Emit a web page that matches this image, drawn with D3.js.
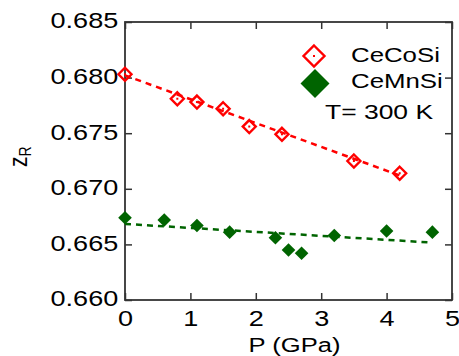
<!DOCTYPE html>
<html>
<head>
<meta charset="utf-8">
<script src="https://cdn.jsdelivr.net/npm/d3@7"></script>
<style>
  body { margin: 0; background: #fff; }
  text { font-family: "Liberation Sans", Arial, sans-serif; fill: #000; }
</style>
</head>
<body>
<script>
// data
const cecosiP = [0, 0.8, 1.1, 1.5, 1.9, 2.4, 3.5, 4.2];
const cecosiZ = [0.6803, 0.6781, 0.6778, 0.6772, 0.6756, 0.6749, 0.6725, 0.6714];
const cemnsiP = [0, 0.6, 1.1, 1.6, 2.3, 2.5, 2.7, 3.2, 4.0, 4.7];
const cemnsiZ = [0.6674, 0.6672, 0.6667, 0.6661, 0.6656, 0.6645, 0.6642, 0.6658, 0.6662, 0.6661];
// dashed fit lines (end points)
const cecosiFitP = [0, 4.2];
const cecosiFitZ = [0.6802, 0.6712];
const cemnsiFitP = [0, 4.7];
const cemnsiFitZ = [0.66684, 0.66516];
const xTicks = [0, 1, 2, 3, 4, 5];
const yTicks = [0.660, 0.665, 0.670, 0.675, 0.680, 0.685];
const legendLabels = ['CeCoSi', 'CeMnSi'];
const note = 'T= 300 K';

const W = 459, H = 356;
const margin = { top: 22, right: 7, bottom: 56, left: 125 };
const sx = 1.23; // text in the picture is stretched horizontally
const red = '#ff0000', green = '#006400', axisCol = '#333';

const x = d3.scaleLinear().domain([0, 5]).range([margin.left, W - margin.right]);
const y = d3.scaleLinear().domain([0.660, 0.685]).range([H - margin.bottom, margin.top]);

const svg = d3.select('body').append('svg').attr('width', W).attr('height', H);

// frame + inward ticks on all sides
const pTop = margin.top, pBot = H - margin.bottom, pLeft = margin.left, pRight = W - margin.right;
const tick = 7;

const gb = svg.append('g').attr('transform', `translate(0,${pBot})`)
  .call(d3.axisBottom(x).tickValues(xTicks).tickFormat(d3.format('d')).tickSize(-tick).tickSizeOuter(0).tickPadding(10));
const gl = svg.append('g').attr('transform', `translate(${pLeft},0)`)
  .call(d3.axisLeft(y).tickValues(yTicks).tickFormat(d3.format('.3f')).tickSize(-tick).tickSizeOuter(0).tickPadding(5.5));
const gt = svg.append('g').attr('transform', `translate(0,${pTop})`)
  .call(d3.axisTop(x).tickValues(xTicks).tickFormat('').tickSize(-tick).tickSizeOuter(0));
const gr = svg.append('g').attr('transform', `translate(${pRight},0)`)
  .call(d3.axisRight(y).tickValues(yTicks).tickFormat('').tickSize(-tick).tickSizeOuter(0));

[gb, gl, gt, gr].forEach(g => {
  g.select('.domain').remove();
  g.selectAll('.tick line').attr('stroke', axisCol).attr('stroke-width', 1.5);
});
gb.selectAll('.tick text').attr('font-size', 22).attr('transform', `scale(${sx},1)`).attr('fill', '#000');
gl.selectAll('.tick text').attr('font-size', 22).attr('dy', '0.27em').attr('transform', `scale(${sx},1)`).attr('fill', '#000');

svg.append('rect')
  .attr('x', pLeft).attr('y', pTop).attr('width', pRight - pLeft).attr('height', pBot - pTop)
  .attr('fill', 'none').attr('stroke', axisCol).attr('stroke-width', 1.8);

// axis titles
svg.append('text')
  .attr('transform', `translate(${(pLeft + pRight) / 2 + 6},351.5) scale(1.28,1)`)
  .attr('text-anchor', 'middle').attr('font-size', 20)
  .text('P (GPa)');

const yl = svg.append('text')
  .attr('transform', `translate(26.5,167) scale(${sx},1) rotate(-90)`)
  .attr('font-size', 21);
yl.append('tspan').text('z');
yl.append('tspan').attr('font-size', 14).attr('dy', 4).text('R');

// fit lines
const line = d3.line().x(d => x(d[0])).y(d => y(d[1]));
svg.append('path')
  .datum(d3.zip(cecosiFitP, cecosiFitZ))
  .attr('d', line).attr('fill', 'none').attr('stroke', red)
  .attr('stroke-width', 2.5).attr('stroke-dasharray', '6,5');
svg.append('path')
  .datum(d3.zip(cemnsiFitP, cemnsiFitZ))
  .attr('d', line).attr('fill', 'none').attr('stroke', green)
  .attr('stroke-width', 2.5).attr('stroke-dasharray', '6,5');

// markers
function diamond(g, cx, cy, r) {
  return g.append('path').attr('d', `M${cx},${cy - r}L${cx + r},${cy}L${cx},${cy + r}L${cx - r},${cy}Z`);
}

const pts = svg.append('g');
d3.zip(cemnsiP, cemnsiZ).forEach(d => {
  diamond(pts, x(d[0]), y(d[1]), 6.8).attr('fill', green);
});
d3.zip(cecosiP, cecosiZ).forEach(d => {
  diamond(pts, x(d[0]), y(d[1]), 6.5).attr('fill', 'none').attr('stroke', red).attr('stroke-width', 2.4);
  pts.append('rect').attr('x', x(d[0]) - 1).attr('y', y(d[1]) - 1).attr('width', 2).attr('height', 2).attr('fill', red);
});

// legend
const lg = svg.append('g');
diamond(lg, 314, 56, 10.5).attr('fill', 'none').attr('stroke', red).attr('stroke-width', 2.4);
lg.append('rect').attr('x', 313).attr('y', 55).attr('width', 2).attr('height', 2).attr('fill', red);
diamond(lg, 315, 83.5, 14.5).attr('fill', green);
legendLabels.forEach((t, i) => {
  lg.append('text')
    .attr('transform', `translate(351,${61.7 + i * 26.6}) scale(${sx},1)`)
    .attr('font-size', 21).text(t);
});
lg.append('text')
  .attr('transform', `translate(325,119.3) scale(1.26,1)`)
  .attr('font-size', 21).text(note);
</script>
</body>
</html>
